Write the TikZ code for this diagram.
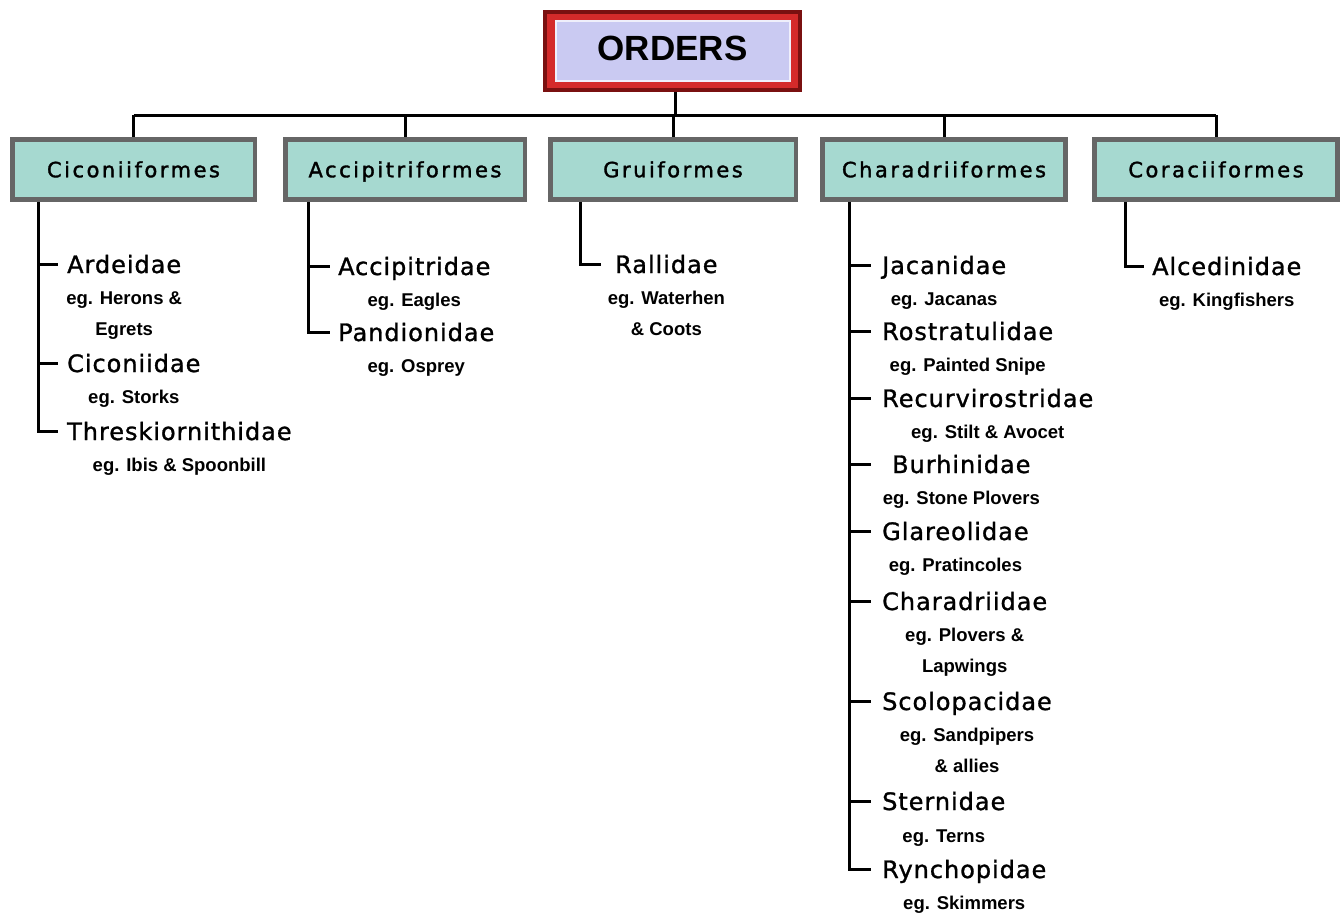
\documentclass[tikz,border=0pt]{standalone}
\usepackage{fontspec}
\setmainfont{DejaVu Sans}
\newfontfamily\famfont[LetterSpace=4,FakeBold=1.2]{DejaVu Sans}
\newfontfamily\ordfont[LetterSpace=12,FakeBold=1.6]{DejaVu Sans}
\newfontfamily\egfont{Liberation Sans}
\newfontfamily\titlefont{Liberation Sans}
\usetikzlibrary{backgrounds,calc}
\definecolor{tealfill}{HTML}{A6D9D0}
\definecolor{boxgray}{HTML}{666666}
\definecolor{lav}{HTML}{CACAF2}
\definecolor{ordred}{HTML}{D42A2A}
\definecolor{maroon}{HTML}{7A1010}
\tikzset{
  ordbox/.style={draw=boxgray, line width=4.5pt, fill=tealfill, minimum height=60pt, inner sep=0pt, text height=15.5pt, text depth=0pt, font=\ordfont\fontsize{21}{24}\selectfont},
  fam/.style={inner sep=0pt, text height=18pt, text depth=0pt, anchor=west, font=\famfont\fontsize{24}{28}\selectfont},
  eg/.style={inner sep=0pt, anchor=base, font=\egfont\bfseries\fontsize{18.5}{22}\selectfont},
  link/.style={line width=3pt, black},
  titlebox/.style={minimum width=259pt, minimum height=82pt, inner sep=0pt, text height=25pt, text depth=7pt, font=\titlefont\bfseries\fontsize{35}{40}\selectfont}
}
\begin{document}
\begin{tikzpicture}[x=1pt,y=-1pt]
\useasboundingbox (0,0) rectangle (1340,914);

% title
\node[titlebox] (orders) at (672.5,51) {ORDERS};
\begin{pgfonlayer}{background}
  \fill[maroon] (orders.north west) rectangle (orders.south east);
  \fill[ordred] ([shift={(4pt,-4pt)}]orders.north west) rectangle ([shift={(-4pt,4pt)}]orders.south east);
  \fill[white!70!lav] ([shift={(12pt,-10pt)}]orders.north west) rectangle ([shift={(-11pt,10pt)}]orders.south east);
  \fill[lav] ([shift={(14pt,-12pt)}]orders.north west) rectangle ([shift={(-13pt,12pt)}]orders.south east);
\end{pgfonlayer}

% orders
\node[ordbox, minimum width=242.5pt] (cic) at (133.5,169.5) {Ciconiiformes};
\node[ordbox, minimum width=239.5pt] (acc) at (405,169.5) {Accipitriformes};
\node[ordbox, minimum width=245.5pt] (gru) at (673,169.5) {Gruiformes};
\node[ordbox, minimum width=243pt] (cha) at (944,169.5) {Charadriiformes};
\node[ordbox, minimum width=243pt] (cor) at (1216,169.5) {Coraciiformes};

\coordinate (bar) at (0,115);
\coordinate (ot) at (675,0);
\draw[link] (ot |- orders.south) -- (ot |- bar);
\draw[link] (cic.north |- bar) -- (cor.north |- bar);
\foreach \n in {cic,acc,gru,cha,cor} \draw[link] (\n.north |- bar) -- (\n.north);

% Ciconiiformes
\coordinate (t1) at (38,0); \coordinate (e1) at (58,0);
\node[fam] (ard) at (67,264) {Ardeidae};
\node[eg] (ardA) at ([yshift=-31pt]ard.south) {eg. Herons \&};
\node[eg] (ardB) at ([yshift=-31pt]ardA.base) {Egrets};
\node[fam] (cico) at (67,363) {Ciconiidae};
\node[eg] (cicoA) at ([yshift=-31pt]cico.south) {eg. Storks};
\node[fam] (thr) at (67,431) {Threskiornithidae};
\node[eg] (thrA) at ([yshift=-31pt]thr.south) {eg. Ibis \& Spoonbill};
\draw[link] (t1 |- cic.south) |- (e1 |- thr.west);
\draw[link] (t1 |- ard.west) -- (e1 |- ard.west);
\draw[link] (t1 |- cico.west) -- (e1 |- cico.west);

% Accipitriformes
\coordinate (t2) at (308,0); \coordinate (e2) at (330,0);
\node[fam] (acci) at (338,266) {Accipitridae};
\node[eg] (acciA) at ([yshift=-31pt]acci.south) {eg. Eagles};
\node[fam] (pand) at (338,332) {Pandionidae};
\node[eg] (pandA) at ([yshift=-31pt]pand.south) {eg. Osprey};
\draw[link] (t2 |- acc.south) |- (e2 |- pand.west);
\draw[link] (t2 |- acci.west) -- (e2 |- acci.west);

% Gruiformes
\coordinate (t3) at (580,0); \coordinate (e3) at (601,0);
\node[fam] (rall) at (615,264) {Rallidae};
\node[eg] (rallA) at ([yshift=-31pt]rall.south) {eg. Waterhen};
\node[eg] (rallB) at ([yshift=-31pt]rallA.base) {\& Coots};
\draw[link] (t3 |- gru.south) |- (e3 |- rall.west);

% Charadriiformes
\coordinate (t4) at (849,0); \coordinate (e4) at (871,0);
\node[fam] (jac) at (882,265) {Jacanidae};
\node[eg] (jacA) at ([yshift=-31pt]jac.south) {eg. Jacanas};
\node[fam] (ros) at (882,331) {Rostratulidae};
\node[eg] (rosA) at ([yshift=-31pt]ros.south) {eg. Painted Snipe};
\node[fam] (rec) at (882,398) {Recurvirostridae};
\node[eg] (recA) at ([yshift=-31pt]rec.south) {eg. Stilt \& Avocet};
\node[fam] (bur) at (892,464) {Burhinidae};
\node[eg] (burA) at ([yshift=-31pt]bur.south) {eg. Stone Plovers};
\node[fam] (gla) at (882,531) {Glareolidae};
\node[eg] (glaA) at ([yshift=-31pt]gla.south) {eg. Pratincoles};
\node[fam] (chd) at (882,601) {Charadriidae};
\node[eg] (chdA) at ([yshift=-31pt]chd.south) {eg. Plovers \&};
\node[eg] (chdB) at ([yshift=-31pt]chdA.base) {Lapwings};
\node[fam] (sco) at (882,701) {Scolopacidae};
\node[eg] (scoA) at ([yshift=-31pt]sco.south) {eg. Sandpipers};
\node[eg] (scoB) at ([yshift=-31pt]scoA.base) {\& allies};
\node[fam] (ste) at (882,801) {Sternidae};
\node[eg] (steA) at ([yshift=-32pt]ste.south) {eg. Terns};
\node[fam] (ryn) at (882,869) {Rynchopidae};
\node[eg] (rynA) at ([yshift=-31pt]ryn.south) {eg. Skimmers};
\draw[link] (t4 |- cha.south) |- (e4 |- ryn.west);
\foreach \n in {jac,ros,rec,bur,gla,chd,sco,ste} \draw[link] (t4 |- \n.west) -- (e4 |- \n.west);

% Coraciiformes
\coordinate (t5) at (1125,0); \coordinate (e5) at (1144,0);
\node[fam] (alc) at (1152,266) {Alcedinidae};
\node[eg] (alcA) at ([yshift=-31pt]alc.south) {eg. Kingfishers};
\draw[link] (t5 |- cor.south) |- (e5 |- alc.west);
\end{tikzpicture}
\end{document}
